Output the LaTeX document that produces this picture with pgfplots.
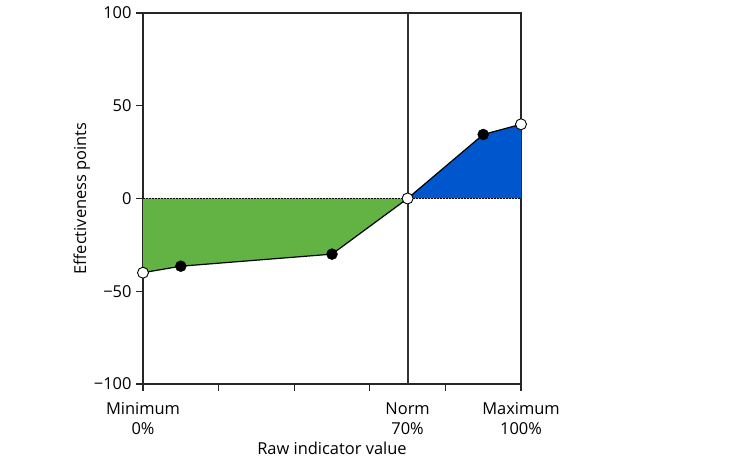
\documentclass[border=0pt]{standalone}
\usepackage{pgfplots}
\pgfplotsset{compat=1.18}
\usepackage{fontspec}
\setmainfont{Open Sans}
\definecolor{fgreen}{RGB}{99,179,68}
\definecolor{fblue}{RGB}{0,87,205}
\newcommand{\ff}{\fontsize{16.5}{20}\selectfont}
\begin{document}
\begin{tikzpicture}[x=1bp,y=1bp]
\useasboundingbox (0,0) rectangle (737,466);
\begin{axis}[
  at={(143bp,82bp)}, anchor=south west,
  scale only axis, width=378bp, height=371bp,
  xmin=0, xmax=100, ymin=-100, ymax=100,
  tick label style={font=\ff},
  label style={font=\ff},
  axis line style={line width=1.5bp, black!85},
  every tick/.style={line width=1.3bp, black!85},
  tick align=outside, major tick length=7bp,
  xtick pos=bottom, ytick pos=left,
  xtick={0,20,40,60,80,100},
  xticklabels={},
  extra x ticks={0,70,100},
  extra x tick labels={{Minimum\\0\%},{Norm\\70\%},{Maximum\\100\%}},
  extra x tick style={tick style={draw=none}},
  xticklabel style={align=center, anchor=north, yshift=-8bp},
  ytick={-100,-50,0,50,100},
  yticklabels={−100,−50,0,50,100},
  yticklabel style={xshift=-1bp},
  xlabel={Raw indicator value},
  ylabel={Effectiveness points},
  xlabel style={at={(axis description cs:0.5,0)}, anchor=base, yshift=-71bp},
  ylabel style={yshift=-3bp},
  clip=false,
]
\addplot[fill=fgreen, draw=none] coordinates {(0,0) (0,-40) (10,-36.5) (50,-30) (70,0)} -- cycle;
\addplot[fill=fblue, draw=none] coordinates {(70,0) (90,34.5) (100,40) (100,0)} -- cycle;
\addplot[black, line width=1.2bp, dash pattern=on 1.5bp off 1.5bp] coordinates {(0,0) (100,0)};
\addplot[black!80, line width=1.8bp] coordinates {(70,-100) (70,100)};
\addplot[black, line width=1.2bp] coordinates {(0,-40) (10,-36.5) (50,-30) (70,0) (90,34.5) (100,40)};
\addplot[only marks, mark=*, mark size=5.5bp, mark options={fill=black, draw=black}] coordinates {(10,-36.5) (50,-30) (90,34.5)};
\addplot[only marks, mark=*, mark size=5.5bp, mark options={fill=white, draw=black, line width=0.9bp}] coordinates {(0,-40) (70,0) (100,40)};
\end{axis}
\end{tikzpicture}
\end{document}
